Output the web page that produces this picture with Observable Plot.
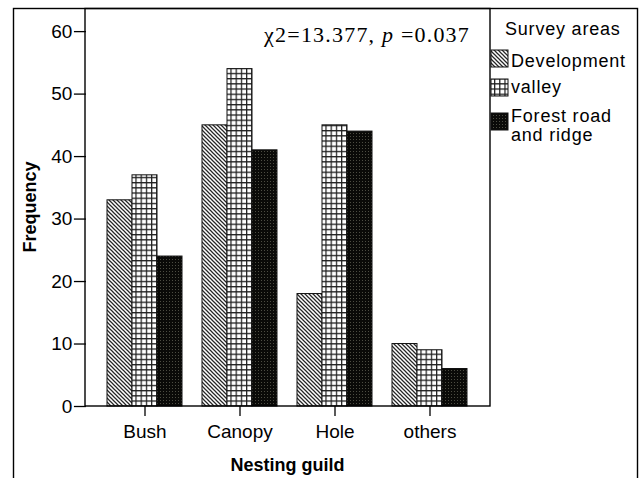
<!DOCTYPE html>
<html>
<head>
<meta charset="utf-8">
<script src="https://cdn.jsdelivr.net/npm/d3@7"></script>
<script src="https://cdn.jsdelivr.net/npm/@observablehq/plot@0.6"></script>
<style>
  html, body { margin: 0; padding: 0; background: #fff; }
  #chart { width: 643px; height: 478px; overflow: hidden; }
</style>
</head>
<body>
<div id="chart"></div>
<script>
// ---- data ----
const guilds = ["Bush", "Canopy", "Hole", "others"];
const areas = ["Development", "valley", "Forest road and ridge"];
const development = [33, 45, 18, 10];
const valley = [37, 54, 45, 9];
const forest = [24, 41, 44, 6];
const yTicks = [0, 10, 20, 30, 40, 50, 60];
const legendTitle = "Survey areas";
const legendLines = [["Development"], ["valley"], ["Forest road", "and ridge"]];
const xTitle = "Nesting guild";
const yTitle = "Frequency";
const statText = ["χ2=13.377, ", "p", " =0.037"];

const patternIds = ["url(#pDev)", "url(#pVal)", "url(#pFor)"];
const seriesValues = [development, valley, forest];
const data = guilds.flatMap((g, i) =>
  areas.map((a, j) => ({guild: g, area: a, n: seriesValues[j][i]}))
);

const W = 643, H = 478;
const mL = 85, mR = 153, mT = 8, mB = 72;
const sans = "'Liberation Sans', Arial, Helvetica, sans-serif";
const padIn = 0.185, padOut = 0.21;

// offset of the first facet from the frame's left edge (for the y axis)
const band = d3.scaleBand().domain(guilds).range([mL, W - mR]).paddingInner(padIn).paddingOuter(padOut);
const facetOffset = band(guilds[0]) - mL;

const plot = Plot.plot({
  width: W, height: H,
  marginLeft: mL, marginRight: mR, marginTop: mT, marginBottom: mB,
  style: {fontFamily: sans, fontSize: "19px", background: "#fff", color: "#000", overflow: "visible"},
  fx: {domain: guilds, paddingInner: padIn, paddingOuter: padOut, label: null},
  x: {domain: areas, padding: 0, axis: null},
  y: {domain: [0, 63.7], label: null},
  color: {domain: areas, range: patternIds},
  marks: [
    Plot.barY(data, {fx: "guild", x: "area", y: "n", fill: "area", stroke: "#111", strokeWidth: 1}),
    Plot.axisY({ticks: yTicks, tickSize: 12, tickPadding: 2, label: null, strokeWidth: 1.3, letterSpacing: 0.5, dx: -facetOffset}),
    Plot.axisFx({anchor: "bottom", tickSize: 10, tickPadding: 8, label: null, strokeWidth: 1.3, letterSpacing: 1})
  ]
});

document.getElementById("chart").appendChild(plot);

const svg = d3.select(plot);
// ---- patterns ----
const defs = svg.insert("defs", ":first-child");
const pd = defs.append("pattern").attr("id", "pDev").attr("patternUnits", "userSpaceOnUse").attr("width", 4).attr("height", 4);
pd.append("rect").attr("width", 4).attr("height", 4).attr("fill", "#fff");
pd.append("path").attr("d", "M-1,-1L5,5M-1,3L1,5M3,-1L5,1").attr("stroke", "#262626").attr("stroke-width", 1.25).attr("fill", "none");

const pv = defs.append("pattern").attr("id", "pVal").attr("patternUnits", "userSpaceOnUse").attr("width", 5.2).attr("height", 5.2);
pv.append("rect").attr("width", 5.2).attr("height", 5.2).attr("fill", "#fff");
pv.append("path").attr("d", "M0,0.6H5.2M0.6,0V5.2").attr("stroke", "#1e1e1e").attr("stroke-width", 1.25).attr("fill", "none");

const pf = defs.append("pattern").attr("id", "pFor").attr("patternUnits", "userSpaceOnUse").attr("width", 3).attr("height", 3);
pf.append("rect").attr("width", 3).attr("height", 3).attr("fill", "#0a0a08");
pf.append("rect").attr("x", 1).attr("y", 1).attr("width", 1).attr("height", 1).attr("fill", "#4c4c42");

// ---- frames ----
const g = svg.append("g").attr("fill", "none").attr("stroke", "#000").attr("stroke-width", 1.4);
g.append("rect").attr("x", 13.5).attr("y", mT + 0.5).attr("width", 624).attr("height", 500);
g.append("rect").attr("x", mL).attr("y", mT + 0.5).attr("width", W - mR - mL).attr("height", H - mB - mT - 0.5);

// ---- axis titles ----
svg.append("text").attr("transform", `translate(36,${(mT + H - mB) / 2}) rotate(-90)`)
  .attr("text-anchor", "middle").attr("font-weight", "bold").attr("font-size", 18).attr("font-family", sans)
  .text(yTitle);
svg.append("text").attr("x", (mL + W - mR) / 2).attr("y", 471)
  .attr("text-anchor", "middle").attr("font-weight", "bold").attr("font-size", 18).attr("font-family", sans)
  .text(xTitle);

// ---- stat annotation ----
const st = svg.append("text").attr("x", W - mR - 20).attr("y", 41.5).attr("text-anchor", "end")
  .attr("font-family", "'Liberation Serif', 'DejaVu Serif', serif").attr("font-size", 22).attr("letter-spacing", 1.2);
st.append("tspan").text(statText[0]);
st.append("tspan").attr("font-style", "italic").text(statText[1]);
st.append("tspan").text(statText[2]);

// ---- legend ----
const lg = svg.append("g").attr("font-family", sans).attr("font-size", 18).attr("letter-spacing", 0.8).attr("text-anchor", "start");
lg.append("text").attr("x", 505).attr("y", 34.5).text(legendTitle);
const swY = [50, 79, 113];
const txY = [[66.5], [93], [121.5, 140.5]];
legendLines.forEach((lines, i) => {
  lg.append("rect").attr("x", 491).attr("y", swY[i]).attr("width", 17).attr("height", 17)
    .attr("fill", patternIds[i]).attr("stroke", "#111").attr("stroke-width", 1);
  lines.forEach((t, k) => {
    lg.append("text").attr("x", 511).attr("y", txY[i][k]).text(t);
  });
});
</script>
</body>
</html>
